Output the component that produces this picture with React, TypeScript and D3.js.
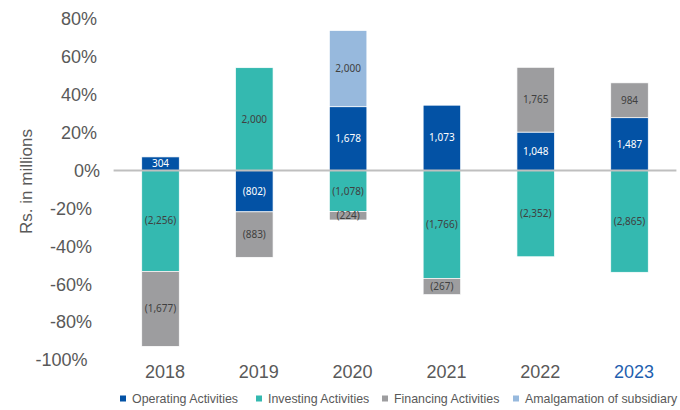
import React from "react";
import * as d3 from "d3";

const years = ["2018", "2019", "2020", "2021", "2022", "2023"];
const seriesKeys = ["operating", "investing", "financing", "amalgamation"];
const seriesNames = ["Operating Activities", "Investing Activities", "Financing Activities", "Amalgamation of subsidiary"];
const seriesColors = ["#0352A5", "#34B9B0", "#9D9D9F", "#97B9DD"];
const labelColors = ["#ffffff", "#404040", "#404040", "#404040"];

// bar heights (share, %)
const operatingPct = [7.2, -21.8, 33.7, 34.5, 20.3, 27.9];
const investingPct = [-53.2, 54.3, -21.6, -56.9, -45.5, -53.7];
const financingPct = [-39.6, -24.0, -4.5, -8.6, 34.2, 18.4];
const amalgamationPct = [0, 0, 40.2, 0, 0, 0];

// data labels (Rs. millions)
const operatingLabels = ["304", "(802)", "1,678", "1,073", "1,048", "1,487"];
const investingLabels = ["(2,256)", "2,000", "(1,078)", "(1,766)", "(2,352)", "(2,865)"];
const financingLabels = ["(1,677)", "(883)", "(224)", "(267)", "1,765", "984"];
const amalgamationLabels = ["", "", "2,000", "", "", ""];

const yTicks = [80, 60, 40, 20, 0, -20, -40, -60, -80, -100];

export default function App() {
  const W = 680, H = 410;
  const x = d3.scaleBand<string>().domain(years).range([113.6, 676.4]).paddingInner(0.6).paddingOuter(0.3);
  const y = d3.scaleLinear().domain([-100, 80]).range([360, 19]);

  const pctArrays = [operatingPct, investingPct, financingPct, amalgamationPct];
  const labelArrays = [operatingLabels, investingLabels, financingLabels, amalgamationLabels];
  const rows = years.map((yr, i) => {
    const r: any = { year: yr };
    seriesKeys.forEach((k, j) => (r[k] = pctArrays[j][i]));
    return r;
  });
  const stacked = d3.stack<any>().keys(seriesKeys).offset(d3.stackOffsetDiverging)(rows);

  const tickRight = (t: number) => (t > 0 ? 97 : t === 0 ? 100 : t === -100 ? 87.5 : 92);

  const legendX = [120, 256, 382, 513];

  return (
    <svg width={W} height={H} style={{ position: "absolute", left: 0, top: 0, background: "#fff" }}>
      {yTicks.map((t) => (
        <text key={t} x={tickRight(t)} y={y(t)} dy="0.35em" textAnchor="end"
          fontFamily="Liberation Sans, Arial, sans-serif" fontSize={18} fill="#595959">
          {t}%
        </text>
      ))}
      <text transform={`translate(32,181.5) rotate(-90)`} textAnchor="middle"
        fontFamily="Liberation Sans, Arial, sans-serif" fontSize={17} fill="#595959">
        Rs. in millions
      </text>
      {stacked.map((s, j) => (
        <g key={s.key}>
          {s.map((d, i) => {
            const v = pctArrays[j][i];
            if (!v) return null;
            const y0 = y(Math.max(d[0], d[1]));
            const y1 = y(Math.min(d[0], d[1]));
            return (
              <rect key={i} x={x(years[i])} y={y0} width={x.bandwidth()} height={y1 - y0}
                fill={seriesColors[j]} stroke="#ffffff" strokeWidth={0.7} />
            );
          })}
        </g>
      ))}
      <line x1={113.6} x2={676.4} y1={y(0)} y2={y(0)} stroke="#BFBFBF" strokeWidth={2} />
      {stacked.map((s, j) => (
        <g key={"l" + s.key}>
          {s.map((d, i) => {
            const lab = labelArrays[j][i];
            if (!lab) return null;
            const cy = (y(d[0]) + y(d[1])) / 2;
            return (
              <text key={i} x={(x(years[i]) as number) + x.bandwidth() / 2} y={cy} dy="0.35em"
                textAnchor="middle" fontFamily="Noto Sans, Open Sans, sans-serif" fontSize={10}
                fill={labelColors[j]}>
                {lab}
              </text>
            );
          })}
        </g>
      ))}
      {years.map((yr, i) => (
        <text key={yr} x={(x(yr) as number) + x.bandwidth() / 2 + 4.5} y={378} textAnchor="middle"
          fontFamily="Liberation Sans, Arial, sans-serif" fontSize={18}
          fill={i === years.length - 1 ? "#1F5FAF" : "#595959"}>
          {yr}
        </text>
      ))}
      {seriesNames.map((n, j) => (
        <g key={n} transform={`translate(${legendX[j]},0)`}>
          <rect x={0} y={395.5} width={6} height={6} fill={seriesColors[j]} />
          <text x={12} y={402.5} fontFamily="Liberation Sans, Arial, sans-serif" fontSize={12.4} fill="#595959">
            {n}
          </text>
        </g>
      ))}
    </svg>
  );
}
